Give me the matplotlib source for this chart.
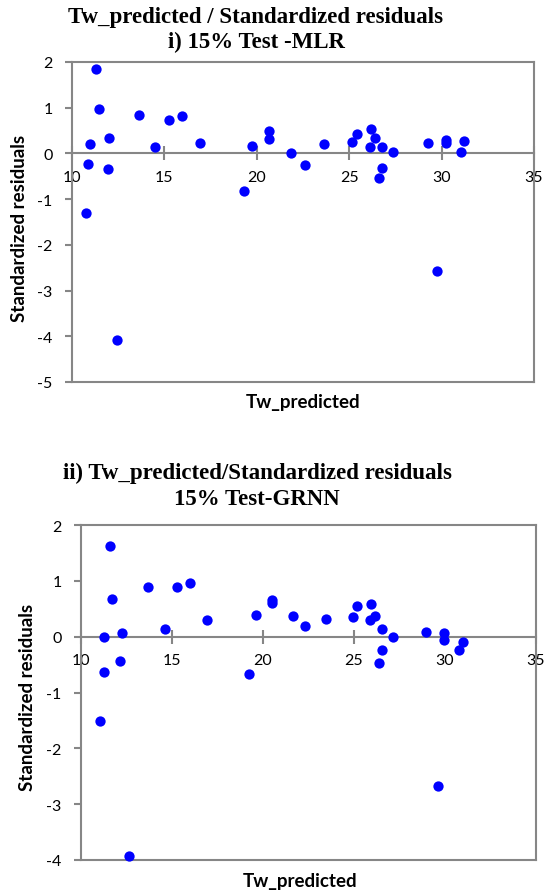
import matplotlib
matplotlib.use('Agg')
import matplotlib.pyplot as plt

matplotlib.rcParams['axes.unicode_minus'] = False

# residuals
mlr_x = [11.30, 11.44, 10.99, 10.88, 11.98, 11.95, 10.74, 12.43, 13.60, 14.50, 15.27, 15.97,
         16.93, 19.33, 19.74, 20.66, 20.68, 21.85, 22.60, 23.65, 25.15, 25.42, 26.16, 26.40,
         26.13, 26.78, 26.80, 26.63, 27.39, 29.25, 29.77, 30.22, 30.22, 31.23, 31.05]
mlr_y = [1.84, 0.97, 0.20, -0.24, 0.34, -0.33, -1.30, -4.08, 0.85, 0.15, 0.73, 0.82,
         0.23, -0.82, 0.16, 0.49, 0.31, 0.01, -0.25, 0.20, 0.26, 0.42, 0.53, 0.33,
         0.14, 0.14, -0.31, -0.53, 0.04, 0.23, -2.58, 0.29, 0.23, 0.28, 0.03]

grnn_x = [11.58, 11.72, 11.28, 12.27, 12.14, 11.26, 11.07, 12.65, 13.70, 14.63, 15.25, 15.98,
          16.93, 19.24, 19.63, 20.49, 20.49, 21.63, 22.30, 23.45, 24.93, 25.15, 25.92, 26.15,
          25.87, 26.52, 26.54, 26.37, 27.12, 28.97, 29.63, 29.97, 29.97, 30.98, 30.76]
grnn_y = [1.63, 0.68, 0.00, 0.07, -0.43, -0.63, -1.51, -3.92, 0.89, 0.14, 0.89, 0.96,
          0.30, -0.67, 0.38, 0.66, 0.61, 0.37, 0.20, 0.31, 0.36, 0.55, 0.58, 0.37,
          0.30, 0.14, -0.24, -0.47, 0.00, 0.09, -2.68, 0.06, -0.06, -0.10, -0.24]

x_ticks = [10, 15, 20, 25, 30, 35]
mlr_yticks = [2, 1, 0, -1, -2, -3, -4, -5]
grnn_yticks = [2, 1, 0, -1, -2, -3, -4]

grey = '#868686'
tick_font = 'Lato'
title_font = 'Liberation Serif'

fig = plt.figure(figsize=(5.52, 8.95), dpi=100)
W, H = 552.0, 895.0


def panel(rect, x, y, yticks):
    ax = fig.add_axes(rect)
    ax.scatter(x, y, s=55, color='#0000FF', linewidths=0, zorder=3, clip_on=False)
    ax.set_xlim(10, 35)
    ax.set_ylim(min(yticks), max(yticks))
    ax.set_xticks(x_ticks)
    ax.set_yticks(yticks)
    ax.spines['bottom'].set_position(('data', 0))
    for s in ax.spines.values():
        s.set_color(grey)
        s.set_linewidth(1.5)
    ax.axhline(min(yticks), color=grey, lw=1.5, clip_on=False, zorder=2)
    ax.tick_params(axis='x', direction='inout', length=10, width=1.5, color=grey, pad=7)
    ax.tick_params(axis='y', direction='out', length=5, width=1.5, color=grey, pad=9)
    for lab in ax.get_xticklabels() + ax.get_yticklabels():
        lab.set_fontfamily(tick_font)
        lab.set_fontsize(11.5)
    return ax


# top panel: MLR
ax1 = panel([72 / W, 1 - 383 / H, 462 / W, 320 / H], mlr_x, mlr_y, mlr_yticks)
fig.text(256 / W, 1 - 18 / H, 'Tw_predicted / Standardized residuals', ha='center', va='center',
         family=title_font, weight='bold', fontsize=16.5)
fig.text(256 / W, 1 - 42 / H, 'i) 15% Test -MLR', ha='center', va='center',
         family=title_font, weight='bold', fontsize=16.5)
fig.text(303 / W, 1 - 403 / H, 'Tw_predicted', ha='center', va='center',
         family=tick_font, weight='bold', fontsize=13.5)
fig.text(20 / W, 1 - 228 / H, 'Standardized residuals', ha='center', va='center', rotation=90,
         family=tick_font, weight='bold', fontsize=13.5)

# bottom panel: GRNN
ax2 = panel([81 / W, 1 - 861 / H, 455 / W, 335 / H], grnn_x, grnn_y, grnn_yticks)
fig.text(257 / W, 1 - 473 / H, 'ii) Tw_predicted/Standardized residuals', ha='center', va='center',
         family=title_font, weight='bold', fontsize=16.5)
fig.text(257 / W, 1 - 500 / H, '15% Test-GRNN', ha='center', va='center',
         family=title_font, weight='bold', fontsize=16.5)
fig.text(300 / W, 1 - 882 / H, 'Tw_predicted', ha='center', va='center',
         family=tick_font, weight='bold', fontsize=13.5)
fig.text(28 / W, 1 - 697 / H, 'Standardized residuals', ha='center', va='center', rotation=90,
         family=tick_font, weight='bold', fontsize=13.5)

fig.savefig('out.png', dpi=100)
